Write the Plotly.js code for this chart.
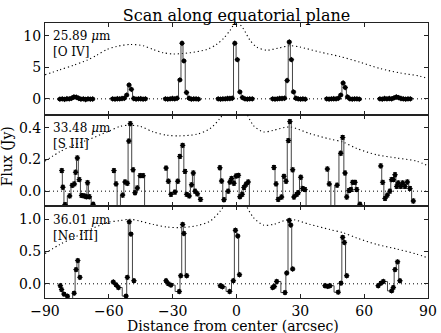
<!DOCTYPE html>
<html>
<head>
<meta charset="utf-8">
<script src="https://cdn.plot.ly/plotly-3.0.1.min.js"></script>
<style>html,body{margin:0;padding:0;background:#fff;}#chart{width:441px;height:333px;}</style>
</head>
<body>
<div id="chart"></div>
<script>
// ---------- data ----------
const tickPositions = [-90, -60, -30, 0, 30, 60, 90];

const lineWavelengths = ["25.89 <i>\u03bc</i>m", "33.48 <i>\u03bc</i>m", "36.01 <i>\u03bc</i>m"];
const lineNames = ["[O IV]", "[S III]", "[Ne III]"];

// Panel 1: [O IV] 25.89 um (Jy)
const oivX = [
  [-83.0,-81.9,-80.8,-79.7,-78.6,-77.5,-76.4,-75.3,-74.2,-73.1,-72.0,-70.9,-69.8,-68.7,-67.6],
  [-58.2,-57.1,-56.0,-54.9,-53.8,-52.7,-51.6,-50.5,-49.4,-48.3,-47.2,-46.1,-45.0,-43.9,-42.8],
  [-33.4,-32.3,-31.2,-30.1,-29.0,-27.9,-26.6,-25.6,-24.7,-23.5,-22.3,-21.2,-20.1,-19.0,-17.9],
  [-8.6,-7.5,-6.4,-5.3,-4.2,-3.1,-2.0,-0.8,0.4,1.6,2.8,4.0,5.1,6.2,7.4],
  [17.0,18.1,19.2,20.3,21.4,22.6,23.8,24.8,25.8,26.8,27.9,29.0,30.1,31.2,32.3],
  [42.4,43.5,44.6,45.7,46.8,47.9,49.0,50.1,51.1,52.2,53.3,54.4,55.5,56.6,57.7],
  [67.4,68.5,69.6,70.7,71.8,72.9,74.0,75.1,76.2,77.3,78.4,79.5,80.6,81.7]
];
const oivY = [
  [-0.05,0.0,-0.08,0.02,0.0,0.1,0.3,0.25,0.1,-0.05,0.0,-0.1,0.0,-0.05,-0.02],
  [0.0,-0.05,0.02,0.0,0.05,0.1,0.6,2.2,1.5,0.05,-0.05,0.0,0.02,-0.05,0.0],
  [0.0,-0.05,0.0,0.05,0.0,0.1,3.0,8.8,6.0,1.0,0.1,-0.05,0.0,0.0,-0.05],
  [0.0,-0.05,0.0,0.0,0.05,0.05,0.1,8.8,6.2,1.1,0.2,0.0,-0.05,0.0,0.0],
  [0.0,-0.05,0.0,0.05,0.05,0.1,2.9,9.0,6.2,1.1,0.1,0.0,-0.05,0.0,-0.05],
  [0.0,-0.05,0.0,0.02,0.0,0.1,0.6,2.5,1.8,0.3,0.0,-0.05,0.0,0.0,-0.05],
  [0.0,-0.05,0.05,0.0,0.05,0.0,0.15,0.3,0.2,0.05,0.0,-0.05,0.0,0.0]
];
const oivProfX = [-90,-83,-76.7,-70.4,-65.7,-61,-56.3,-50,-43.8,-39.1,-34.4,-29.7,-21.9,-14,-9.4,-6,-3.1,0,3,6.3,9.5,14.2,20.4,25.1,29.8,39.2,48.6,58,67.4,76.8,86.2,90];
const oivProfY = [3.8,4.6,5.3,6.1,6.9,7.8,8.3,8.6,8.4,7.8,7.3,7.1,7.3,7.8,8.6,9.6,10.8,12.2,11.2,9.3,8.2,7.7,8.1,8.4,8.2,7.4,6.7,5.8,4.8,4.1,3.6,3.2];

// Panel 2: [S III] 33.48 um (Jy)
const siiiX = [
  [-82.1,-81.6,-80.6,-78.4,-77.2,-76.2,-75.6,-74.8,-73.9,-72.8,-71.6,-70.6,-70.0,-69.2,-67.4],
  [-57.6,-56.6,-55.6,-53.5,-52.4,-51.3,-50.6,-49.9,-48.6,-47.7,-46.6,-45.3,-43.9,-42.5],
  [-33.1,-32.0,-30.8,-28.9,-27.6,-26.6,-25.3,-24.2,-23.4,-22.2,-21.1,-20.3,-19.5,-18.4,-16.9],
  [-7.8,-7.0,-5.9,-3.9,-3.1,-2.3,-1.2,-0.2,0.9,1.6,2.7,3.5,4.5,5.5,6.6],
  [17.6,18.6,19.6,21.2,22.3,23.3,24.4,25.1,26.4,27.0,28.3,29.0,30.2,31.1,32.2,33.2],
  [42.7,43.6,45.1,47.3,49.0,49.9,51.0,51.8,52.9,53.8,54.6,55.7,56.5,58.0],
  [67.8,68.7,69.8,70.9,72.1,72.9,73.7,74.5,75.3,76.0,77.2,78.1,79.2,80.3,81.5,83.1]
];
const siiiY = [
  [0.13,0.025,-0.085,-0.03,0.037,0.046,0.12,0.21,0.073,-0.027,-0.03,-0.035,0.053,-0.035,-0.083],
  [0.13,0.046,-0.15,-0.025,0.058,0.05,0.317,0.427,0.135,-0.01,0.02,0.098,0.098,-0.15],
  [0.146,0.063,-0.02,-0.006,0.063,0.22,0.29,0.125,-0.02,-0.03,0.04,0.115,0.0,-0.017,-0.052],
  [0.148,0.064,-0.054,0.0,0.058,0.08,0.05,0.096,0.1,-0.035,-0.02,0.023,0.044,0.058,-0.15],
  [0.15,0.046,-0.052,-0.037,0.094,0.063,0.32,0.44,0.135,-0.037,-0.02,-0.01,0.088,0.017,0.01,-0.15],
  [0.14,0.046,-0.15,0.038,0.24,0.34,0.115,-0.037,0.004,0.01,0.056,0.056,0.01,-0.083],
  [0.16,0.056,-0.046,-0.025,0.0,0.073,0.073,0.104,0.03,0.052,0.03,0.052,0.03,0.058,0.017,-0.062]
];
const siiiProfX = [-90,-83,-76.7,-68.8,-60.8,-54.7,-50,-45.3,-39.1,-32.8,-26.6,-18.7,-12.5,-7.8,-3,0,3,7.9,12.6,17.3,25.1,34.5,43.9,50.2,56.5,65.9,75.3,84.7,90];
const siiiProfY = [0.19,0.25,0.29,0.33,0.375,0.41,0.417,0.41,0.375,0.354,0.35,0.36,0.395,0.46,0.55,0.6,0.54,0.417,0.375,0.385,0.406,0.364,0.33,0.31,0.27,0.23,0.21,0.19,0.16];

// Panel 3: [Ne III] 36.01 um (Jy)
const neiiiX = [
  [-82.8,-82.2,-81.1,-79.5,-77.7,-76.3,-75.4,-74.6,-73.6],
  [-57.9,-56.6,-55.5,-51.9,-51.3,-50.4,-49.6,-48.2],
  [-33.1,-32.0,-30.8,-26.9,-26.2,-25.3,-24.7,-23.4],
  [-7.6,-6.6,-3.2,-1.5,-0.5,0.6,1.4],
  [17.0,17.8,18.9,22.8,23.6,24.8,25.5,26.4],
  [41.6,42.9,43.9,47.8,49.1,49.9,50.7,51.8],
  [66.6,67.9,69.0,72.9,73.7,74.5,75.7,76.8]
];
const neiiiY = [
  [-0.03,-0.09,-0.16,-0.19,-0.3,-0.145,0.22,0.36,0.1],
  [0.027,-0.016,-0.058,-0.19,0.1,0.96,0.77,0.047],
  [0.047,0.0,-0.02,-0.12,0.125,0.92,0.78,0.125],
  [-0.03,-0.045,-0.12,0.047,0.83,0.74,0.14],
  [-0.058,-0.04,0.036,-0.136,0.167,0.98,0.91,0.23],
  [-0.03,-0.04,-0.03,-0.13,0.01,0.72,0.64,0.125],
  [-0.03,0.01,0.036,-0.11,-0.058,0.22,0.34,0.047]
];
const neiiiProfX = [-90,-83,-76.7,-68.8,-60.8,-54.7,-50,-45.3,-39.1,-32.8,-26.6,-18.7,-12.5,-7.8,-3,0,3,7.9,12.6,17.3,25.1,34.5,43.9,50.2,56.5,65.9,75.3,84.7,90];
const neiiiProfY = [0.47,0.61,0.71,0.84,0.95,0.98,1.0,0.97,0.92,0.88,0.87,0.9,0.97,1.12,1.35,1.45,1.3,1.03,0.91,0.92,1.0,0.92,0.84,0.79,0.71,0.61,0.54,0.46,0.40];

// ---------- build ----------
function joinGroups(groups) {
  const out = [];
  groups.forEach((g, i) => { if (i > 0) out.push(null); g.forEach(v => out.push(v)); });
  return out;
}

const FONT = "DejaVu Serif, Liberation Serif, serif";
const panels = [
  {x: oivX, y: oivY, px: oivProfX, py: oivProfY, err: 0.2, ax: "", range: [-2.5, 12.0], tv: [0, 5, 10], tt: ["0", "5", "10"]},
  {x: siiiX, y: siiiY, px: siiiProfX, py: siiiProfY, err: 0.012, ax: "2", range: [-0.096, 0.484], tv: [0, 0.2, 0.4], tt: ["0.0", "0.2", "0.4"]},
  {x: neiiiX, y: neiiiY, px: neiiiProfX, py: neiiiProfY, err: 0.025, ax: "3", range: [-0.22, 1.2], tv: [0, 0.5, 1.0], tt: ["0.0", "0.5", "1.0"]}
];

const traces = [];
const layout = {
  width: 441, height: 333,
  margin: {l: 45, r: 13, t: 23, b: 35, autoexpand: false},
  paper_bgcolor: "#fff", plot_bgcolor: "#fff",
  showlegend: false,
  font: {family: FONT, size: 14, color: "#000"},
  title: {text: "Scan along equatorial plane", font: {family: FONT, size: 16, color: "#000"},
          x: 0.5, xref: "paper", xanchor: "center", y: 0.955, yref: "container", yanchor: "middle"},
  annotations: [],
};

const domains = [[0.6667, 1.0], [0.3333, 0.6667], [0.0, 0.3333]];

panels.forEach((p, i) => {
  const xa = "x" + p.ax, ya = "y" + p.ax;
  traces.push({
    x: [-90, 90], y: [0, 0], xaxis: xa, yaxis: ya, mode: "lines", hoverinfo: "skip",
    line: {color: "#000", width: 1, dash: "1px,3px"}
  });
  traces.push({
    x: p.px, y: p.py, xaxis: xa, yaxis: ya, mode: "lines", hoverinfo: "skip",
    line: {color: "#000", width: 1.1, dash: "1.2px,2.8px", shape: "spline", smoothing: 0.8}
  });
  traces.push({
    x: joinGroups(p.x), y: joinGroups(p.y), xaxis: xa, yaxis: ya,
    mode: "lines+markers", connectgaps: false, cliponaxis: true,
    line: {color: "#444", width: 1, shape: "hvh"},
    marker: {symbol: "diamond", size: 4.5, color: "#000"},
    error_y: {type: "constant", value: p.err, color: "#000", thickness: 1, width: 2}
  });
  const common = {showline: true, linecolor: "#222", linewidth: 1, mirror: "allticks",
                  ticks: "inside", ticklen: 4, tickwidth: 1, tickcolor: "#222",
                  showgrid: false, zeroline: false, fixedrange: true, automargin: false};
  layout["xaxis" + p.ax] = Object.assign({}, common, {
    anchor: ya, domain: [0, 1], range: [-90, 90], tickmode: "array", tickvals: tickPositions,
    showticklabels: i === 2, tickfont: {family: FONT, size: 14, color: "#000"}
  });
  layout["yaxis" + p.ax] = Object.assign({}, common, {
    anchor: xa, domain: domains[i], range: p.range, tickmode: "array", tickvals: p.tv, ticktext: p.tt,
    tickfont: {family: FONT, size: 14, color: "#000"}
  });
  layout.annotations.push({
    text: lineWavelengths[i], xref: xa + " domain", yref: ya + " domain",
    x: 0.016, y: 0.855, xanchor: "left", yanchor: "middle", align: "left", showarrow: false,
    font: {family: FONT, size: 12, color: "#000"}
  });
  layout.annotations.push({
    text: lineNames[i], xref: xa + " domain", yref: ya + " domain",
    x: 0.016, y: 0.68, xanchor: "left", yanchor: "middle", align: "left", showarrow: false,
    font: {family: FONT, size: 12, color: "#000"}
  });
});

layout.annotations.push({
  text: "Flux (Jy)", xref: "paper", yref: "paper", x: -0.097, y: 0.515,
  xanchor: "center", yanchor: "middle", textangle: -90, showarrow: false,
  font: {family: FONT, size: 14, color: "#000"}
});
layout.annotations.push({
  text: "Distance from center (arcsec)", xref: "paper", yref: "paper", x: 0.49, y: -0.102,
  xanchor: "center", yanchor: "middle", showarrow: false,
  font: {family: FONT, size: 14, color: "#000"}
});

Plotly.newPlot("chart", traces, layout, {staticPlot: true, displayModeBar: false});
</script>
</body>
</html>
